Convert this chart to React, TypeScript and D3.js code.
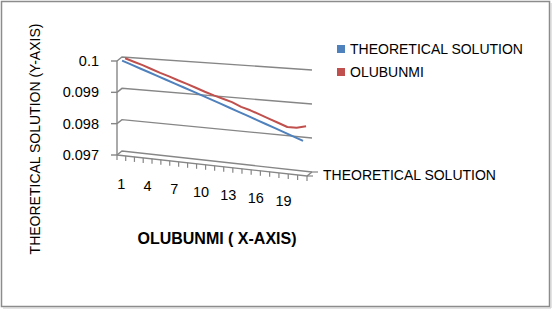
import React from "react";
import * as d3 from "d3";

const categories = ["1","2","3","4","5","6","7","8","9","10","11","12","13","14","15","16","17","18","19","20","21"];
const theoretical = [0.1, 0.0999, 0.0998, 0.0997, 0.0996, 0.0995, 0.0994, 0.0993, 0.0992, 0.0991, 0.099, 0.0989, 0.0988, 0.0987, 0.0986, 0.0985, 0.0984, 0.0983, 0.0982, 0.0981, 0.098];
const olubunmi = [0.1, 0.09991, 0.09982, 0.09972, 0.09962, 0.09953, 0.09943, 0.09934, 0.09924, 0.09914, 0.09905, 0.09897, 0.09889, 0.09877, 0.09869, 0.09859, 0.09849, 0.09839, 0.09829, 0.09829, 0.09836];
const yTicks = [0.097, 0.098, 0.099, 0.1];
const yTickLabels = ["0.097", "0.098", "0.099", "0.1"];
const seriesNames = ["THEORETICAL SOLUTION", "OLUBUNMI"];
const colors = ["#4F81BD", "#C0504D"];

const W = 552, H = 310;
const FONT = "'Liberation Sans', Arial, sans-serif";

export default function App() {
  const N = categories.length;
  const tScale = d3.scaleLinear().domain([0, N]).range([0, 1]);
  const persp = (t: number) => 0.96 * t + 0.04 * t * t;
  const xSpan = d3.scaleLinear().domain([0, 1]).range([117, 307]);
  const topSpan = d3.scaleLinear().domain([0, 1]).range([61, 74]);
  const hSpan = d3.scaleLinear().domain([0, 1]).range([94, 102]);
  const vFrac = d3.scaleLinear().domain([0.097, 0.1]).range([1, 0]);
  const depthX = d3.scaleLinear().domain([0, 1]).range([0, 5]);
  const depthY = d3.scaleLinear().domain([0, 1]).range([0, -4]);

  const proj = (edge: number, v: number, d: number): [number, number] => {
    const p = persp(tScale(edge));
    return [xSpan(p) + depthX(d), topSpan(p) + vFrac(v) * hSpan(p) + depthY(d)];
  };

  const line = d3.line<[number, number]>().x(p => p[0]).y(p => p[1]);
  const grid = "#868686";

  const seriesData = [theoretical, olubunmi];
  const seriesDepth = [0.15, 0.75];

  const frontEdge = yTicks[0];

  return (
    <svg width={W} height={H} style={{ position: "absolute", left: 0, top: 0 }} fontFamily={FONT}>
      <rect x={0} y={0} width={W} height={H} fill="#fff" />
      <rect x={1.5} y={1.5} width={548} height={305} fill="none" stroke="#8c8c8c" strokeWidth={1.5} />
      <line x1={3} y1={308} x2={551} y2={308} stroke="#c8c8c8" strokeWidth={1} />
      <line x1={551} y1={3} x2={551} y2={308} stroke="#c8c8c8" strokeWidth={1} />

      {yTicks.map((v, k) => {
        const a = proj(0, v, 0), b = proj(0, v, 1), c = proj(N, v, 1);
        return <path key={"g" + k} d={line([a, b, c]) || ""} fill="none" stroke={grid} strokeWidth={1.4} />;
      })}
      <path d={line([proj(0, frontEdge, 0), proj(N, frontEdge, 0), proj(N, frontEdge, 1)]) || ""} fill="none" stroke={grid} strokeWidth={1.4} />
      {[0, 1].map(d => {
        const p = proj(N, frontEdge, d);
        return <line key={"dt" + d} x1={p[0]} y1={p[1]} x2={p[0] + 6} y2={p[1]} stroke={grid} strokeWidth={1.2} />;
      })}
      {d3.range(N + 1).map(e => {
        const p = proj(e, frontEdge, 0);
        return <line key={"ct" + e} x1={p[0]} y1={p[1]} x2={p[0]} y2={p[1] + 5} stroke={grid} strokeWidth={1.2} />;
      })}
      <path d={line([proj(0, 0.1, 0), proj(0, 0.097, 0)]) || ""} stroke={grid} strokeWidth={1.4} fill="none" />
      {yTicks.map((v, k) => {
        const p = proj(0, v, 0);
        return (
          <g key={"yt" + k}>
            <line x1={p[0] - 6} y1={p[1]} x2={p[0]} y2={p[1]} stroke={grid} strokeWidth={1.4} />
            <text x={p[0] - 18} y={p[1]} dy="0.35em" textAnchor="end" fontSize={14.5} fill="#000">{yTickLabels[k]}</text>
          </g>
        );
      })}

      {seriesData.map((vals, s) => (
        <path key={"s" + s}
          d={line(vals.map((v, i) => proj(i + 0.5, v, seriesDepth[s]))) || ""}
          fill="none" stroke={colors[s]} strokeWidth={2} strokeLinejoin="round" />
      ))}

      {categories.map((c, i) => {
        if (i % 3 !== 0) return null;
        const p = proj(i + 0.5, frontEdge, 0);
        return <text key={"cl" + i} x={p[0]} y={p[1] + 28} dy="0.35em" textAnchor="middle" fontSize={14.5} fill="#000">{c}</text>;
      })}

      <text x={323} y={175} dy="0.35em" fontSize={14} fill="#000">{seriesNames[0]}</text>

      <text x={217} y={238} dy="0.35em" textAnchor="middle" fontSize={16} fontWeight="bold" fill="#000">OLUBUNMI ( X-AXIS)</text>
      <text transform="translate(35,139) rotate(-90)" dy="0.35em" textAnchor="middle" fontSize={14} fill="#000">THEORETICAL SOLUTION (Y-AXIS)</text>

      {seriesNames.map((n, s) => (
        <g key={"lg" + s} transform={`translate(337,${49 + s * 23})`}>
          <rect x={0} y={-4} width={8} height={8} fill={colors[s]} />
          <text x={13} y={0} dy="0.35em" fontSize={14} fill="#000">{n}</text>
        </g>
      ))}
    </svg>
  );
}
